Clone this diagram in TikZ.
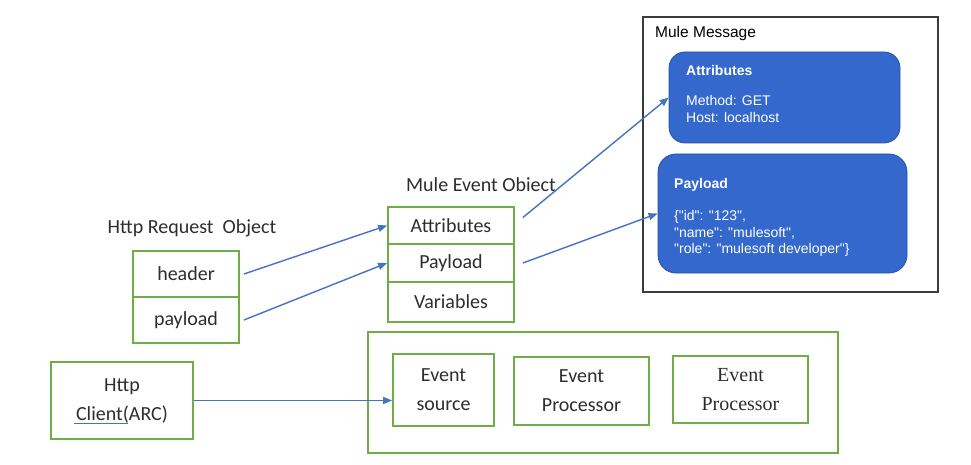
\documentclass[tikz,border=0pt]{standalone}
\usepackage{fontspec}
\setmainfont{Carlito}
\newfontfamily\arialf{Liberation Sans}
\newfontfamily\timesf{Liberation Serif}
\usetikzlibrary{arrows.meta,calc}
\definecolor{grn}{RGB}{112,173,71}
\definecolor{conn}{RGB}{68,114,196}
\definecolor{bluebox}{RGB}{52,104,204}
\definecolor{blueedge}{RGB}{36,80,170}
\definecolor{txt}{RGB}{45,45,45}
\begin{document}
\begin{tikzpicture}[x=1pt,y=-1pt,
  cellbox/.style n args={2}{draw=grn,line width=1.8pt,minimum width=#1,minimum height=#2,inner sep=0pt,text=txt,align=center,font=\fontsize{20}{29}\selectfont},
  lbl/.style={text=txt,inner sep=0pt,font=\fontsize{20}{24}\selectfont},
  bluerect/.style n args={2}{draw=blueedge,fill=bluebox,line width=0.8pt,rounded corners=16pt,minimum width=#1,minimum height=#2,inner sep=0pt},
  wtxt/.style={text=white,inner sep=0pt,anchor=west,font=\arialf\fontsize{14}{17}\selectfont},
  connarrow/.style={draw=conn,line width=1.4pt,-{Triangle[length=9pt,width=7pt]}}
]
\useasboundingbox (0,0) rectangle (971,465);

% Http request object
\node[lbl] (reqtitle) at (192,228) {Http Request\ \ Object};
\node[cellbox={106pt}{46pt}] (hdr) at (186,274) {header};
\node[cellbox={106pt}{46pt}] (pl) at (186,320) {payload};

% Http client
\node[cellbox={142pt}{77pt}] (client) at (122,400.5) {Http\\Client(ARC)};
\draw[conn,line width=0.9pt] (74,423) -- (128,423);

% Mule event object
\node[lbl] (mevtitle) at (481,185) {Mule Event Obiect};
\node[cellbox={126pt}{37pt}] (evattr) at (451,225.5) {Attributes};
\node[cellbox={126pt}{38pt}] (evpay) at (451,263) {Payload};
\node[cellbox={126pt}{40pt}] (evvar) at (451,302) {Variables};

% Flow container
\node[cellbox={470pt}{121pt}] (flow) at (603,392.5) {};
\node[cellbox={101pt}{72pt}] (es) at (443.5,390) {Event\\source};
\node[cellbox={135pt}{68pt}] (ep1) at (581.5,391) {Event\\Processor};
\node[cellbox={135pt}{67pt},font=\timesf\fontsize{20}{29}\selectfont] (ep2) at (740.5,389.5) {Event\\Processor};

% Mule message
\node[draw={rgb,255:red,60;green,60;blue,60},line width=1.2pt,minimum width=295pt,minimum height=275pt,inner sep=0pt] (mm) at (790.5,154.5) {};
\node[inner sep=0pt,anchor=west,text=black,font=\arialf\fontsize{15.5}{18}\selectfont] (mmtitle) at (655,33) {Mule Message};
\node[bluerect={231pt}{91pt}] (mattr) at (784.5,97.5) {};
\node[wtxt,font=\arialf\bfseries\fontsize{14}{17}\selectfont] (mattrh) at (686,70) {Attributes};
\node[wtxt] (mattr1) at (686,100) {Method: GET};
\node[wtxt] (mattr2) at (686,117) {Host: localhost};
\node[bluerect={249pt}{119pt},rounded corners=18pt] (mpay) at (782.5,213.5) {};
\node[wtxt,font=\arialf\bfseries\fontsize{14}{17}\selectfont] (mpayh) at (674,185) {Payload};
\node[wtxt] (mpay1) at (674,217) {\{"id": "123",};
\node[wtxt] (mpay2) at (674,233.5) {"name": "mulesoft",};
\node[wtxt] (mpay3) at (674,250) {"role": "mulesoft developer"\}};

% Connectors
\draw[connarrow] ([xshift=4pt]hdr.east) -- (evattr.west);
\draw[connarrow] ([xshift=4pt]pl.east) -- (evpay.west);
\draw[connarrow] (client.east) -- (client.east -| es.west);
\draw[connarrow] ([shift={(8,-8)}]evattr.east) -- (mattr.west);
\draw[connarrow] ([xshift=8pt]evpay.east) -- (mpay.west);
\end{tikzpicture}
\end{document}
